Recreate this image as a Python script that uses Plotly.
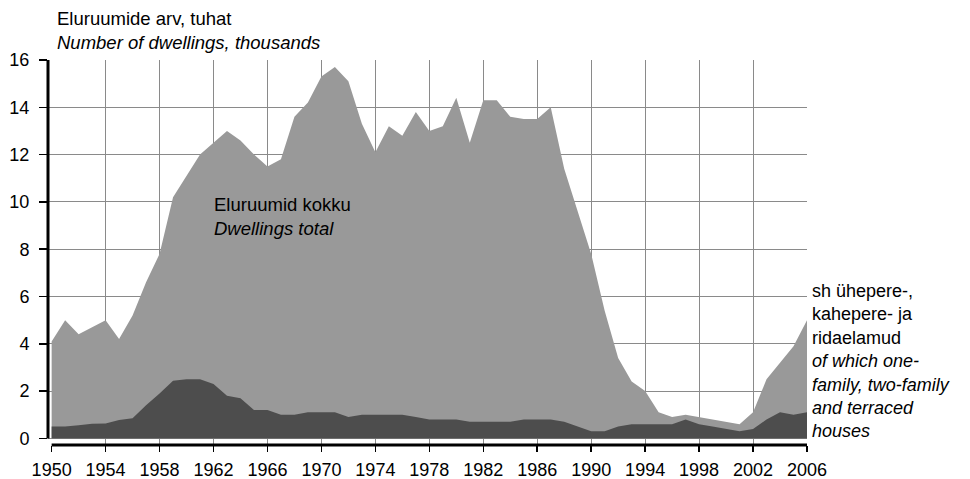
import plotly.graph_objects as go

years = list(range(1950, 2007))
total = [4.1, 5.0, 4.4, 4.7, 5.0, 4.2, 5.2, 6.6, 7.8, 10.2,
         11.1, 12.0, 12.5, 13.0, 12.6, 12.0, 11.5, 11.8, 13.6, 14.2,
         15.3, 15.7, 15.1, 13.3, 12.1, 13.2, 12.8, 13.8, 13.0, 13.2,
         14.4, 12.5, 14.3, 14.3, 13.6, 13.5, 13.5, 14.0, 11.4, 9.6,
         7.8, 5.4, 3.4, 2.4, 2.0, 1.1, 0.9, 1.0, 0.9, 0.8,
         0.7, 0.6, 1.1, 2.5, 3.2, 3.9, 5.0]
houses = [0.5, 0.5, 0.55, 0.62, 0.63, 0.78, 0.85, 1.4, 1.9, 2.44,
          2.5, 2.5, 2.3, 1.8, 1.7, 1.2, 1.2, 1.0, 1.0, 1.1,
          1.1, 1.1, 0.9, 1.0, 1.0, 1.0, 1.0, 0.9, 0.8, 0.8,
          0.8, 0.7, 0.7, 0.7, 0.7, 0.8, 0.8, 0.8, 0.7, 0.5,
          0.3, 0.3, 0.5, 0.6, 0.6, 0.6, 0.6, 0.8, 0.6, 0.5,
          0.4, 0.3, 0.4, 0.8, 1.1, 1.0, 1.1]

x_ticks = list(range(1950, 2007, 4))
x_grid = list(range(1954, 2007, 4))
y_ticks = list(range(0, 17, 2))

title_text = "Eluruumide arv, tuhat<br><i>Number of dwellings, thousands</i>"
total_label = "Eluruumid kokku<br><i>Dwellings total</i>"
houses_label = ("sh ühepere-,<br>kahepere- ja<br>ridaelamud<br>"
                "<i>of which one-<br>family, two-family<br>and terraced<br>houses</i>")

FONT = "Liberation Sans, Arial, sans-serif"
W, H = 970, 479
ML, MR, MT, MB = 48, 163, 60, 34
PW, PH = W - ML - MR, H - MT - MB


def px(xp, yp):
    return (xp - ML) / PW, (H - MB - yp) / PH


fig = go.Figure()
# traces live on the overlaying x2 axis so they sit above the main grid
fig.add_trace(go.Scatter(x=years, y=total, mode="lines", fill="tozeroy",
                         fillcolor="#999999", line=dict(width=0, color="#999999"),
                         xaxis="x2", hoverinfo="skip", showlegend=False))
fig.add_trace(go.Scatter(x=years, y=houses, mode="lines", fill="tozeroy",
                         fillcolor="#4d4d4d", line=dict(width=0, color="#4d4d4d"),
                         xaxis="x2", hoverinfo="skip", showlegend=False))
fig.add_trace(go.Scatter(x=[], y=[], showlegend=False, hoverinfo="skip"))

xr = [1949.73, 2006]
fig.update_layout(
    width=W, height=H,
    margin=dict(l=ML, r=MR, t=MT, b=MB, autoexpand=False),
    paper_bgcolor="white", plot_bgcolor="white",
    font=dict(family=FONT, size=18.5, color="#000000"),
    xaxis=dict(range=xr, tickvals=x_grid, showticklabels=False, ticks="",
               showgrid=True, gridcolor="#8a8a8a", gridwidth=1, zeroline=False,
               showline=False, automargin=False),
    xaxis2=dict(range=xr, overlaying="x", anchor="y", side="bottom",
                tickvals=x_ticks, ticks="outside", ticklen=6,
                tickwidth=1.5, tickcolor="black", showgrid=False, zeroline=False,
                showline=False, tickfont=dict(size=18), ticklabelstandoff=2,
                automargin=False),
    yaxis=dict(range=[-0.28, 16], tickvals=y_ticks, ticks="outside", ticklen=8,
               tickwidth=1.5, tickcolor="black", showgrid=True, gridcolor="#8a8a8a",
               gridwidth=1, zeroline=False, showline=False,
               tickfont=dict(size=18), ticklabelstandoff=6, automargin=False),
    shapes=[
        dict(type="line", xref="x2", yref="paper", x0=1950, x1=2006, y0=0, y1=0,
             line=dict(color="black", width=3)),
        dict(type="line", xref="paper", yref="y", x0=0, x1=0, y0=0, y1=16,
             line=dict(color="black", width=3)),
    ],
)

ax, ay = px(55, 6)
fig.add_annotation(text=title_text, xref="paper", yref="paper", x=ax, y=ay,
                   xanchor="left", yanchor="top", showarrow=False, align="left",
                   font=dict(size=18.5))
ax, ay = px(212, 192)
fig.add_annotation(text=total_label, xref="paper", yref="paper", x=ax, y=ay,
                   xanchor="left", yanchor="top", showarrow=False, align="left",
                   font=dict(size=18.5))
ax, ay = px(810, 279)
fig.add_annotation(text=houses_label, xref="paper", yref="paper", x=ax, y=ay,
                   xanchor="left", yanchor="top", showarrow=False, align="left",
                   font=dict(size=18))

fig.write_html("out.html",
               config={"displayModeBar": False, "staticPlot": True},
               post_script="document.body.style.margin='0';"
                           "document.body.style.overflow='hidden';")
